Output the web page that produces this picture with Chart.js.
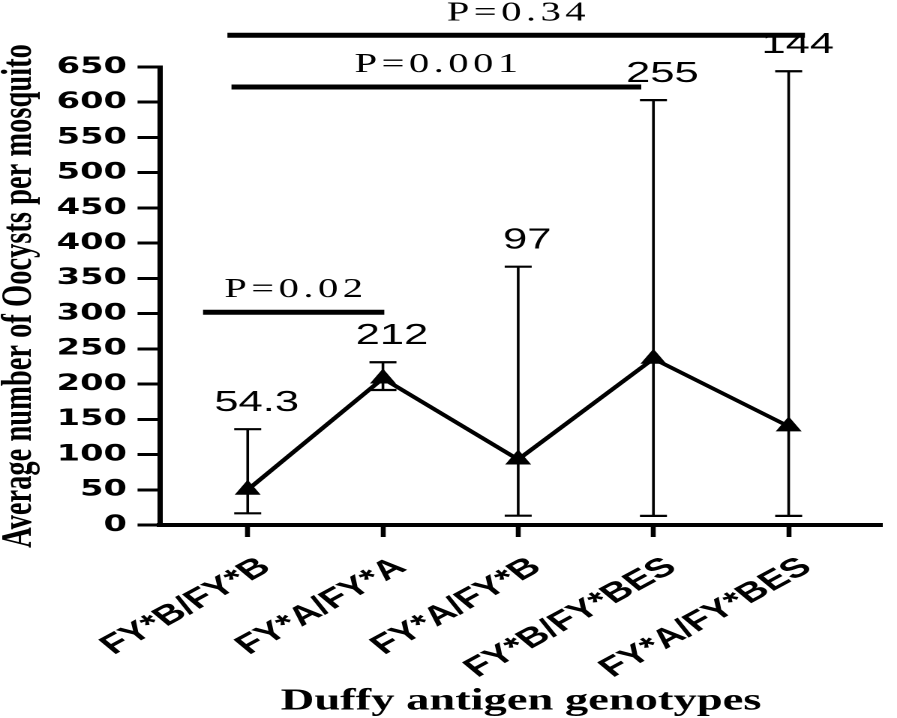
<!DOCTYPE html>
<html><head><meta charset="utf-8">
<script src="https://cdn.jsdelivr.net/npm/chart.js@4.4.1/dist/chart.umd.min.js"></script>
<style>html,body{margin:0;padding:0;background:#fff;overflow:hidden}canvas{display:block}</style>
</head><body>
<canvas id="c" width="598" height="718" style="width:897px;height:718px"></canvas>
<script>
// ---- data ----
const categories = ["FY*B/FY*B", "FY*A/FY*A", "FY*A/FY*B", "FY*B/FY*BES", "FY*A/FY*BES"];
const means      = [50, 208, 93, 236, 140];
const errLow     = [16.6, 191.6, 13.2, 13, 13];
const errHigh    = [136, 231, 366.6, 603, 644];
const valueLabels = ["54.3", "212", "97", "255", "144"];
const yMin = 0, yMax = 650, yStep = 50;
// significance brackets (category units / value units)
const pLabels = ["P=0.02", "P=0.001", "P=0.34"];
const pLevels = [302, 621.6, 695];
const pFrom   = [-0.33, -0.12, -0.15];
const pTo     = [1.01, 2.91, 4.12];

const annot = {
  id: 'annot',
  beforeDatasetsDraw(chart) {
    const {ctx, scales: {x, y}} = chart;
    ctx.save();
    ctx.strokeStyle = '#000';
    means.forEach((m, i) => {
      const px = x.getPixelForValue(i);
      const yl = y.getPixelForValue(errLow[i]);
      const yh = y.getPixelForValue(errHigh[i]);
      ctx.lineWidth = 1.8;
      ctx.beginPath(); ctx.moveTo(px, yl); ctx.lineTo(px, yh); ctx.stroke();
      ctx.lineWidth = 2.2;
      ctx.beginPath();
      ctx.moveTo(px - 9, yl); ctx.lineTo(px + 9, yl);
      ctx.moveTo(px - 9, yh); ctx.lineTo(px + 9, yh);
      ctx.stroke();
    });
    ctx.restore();
  },
  afterDatasetsDraw(chart) {
    const {ctx, scales: {x, y}} = chart;
    ctx.save();
    ctx.fillStyle = '#000';
    ctx.font = '29px "Liberation Sans"';
    ctx.textAlign = 'center';
    ctx.textBaseline = 'alphabetic';
    valueLabels.forEach((t, i) => {
      const px = x.getPixelForValue(i);
      const yh = y.getPixelForValue(errHigh[i]);
      ctx.fillText(t, px + 6, yh - 18);
    });
    ctx.strokeStyle = '#000';
    ctx.lineWidth = 5;
    ctx.font = '27px "Liberation Serif"';
    try { ctx.letterSpacing = '3px'; } catch (e) {}
    pLabels.forEach((t, k) => {
      const ly = y.getPixelForValue(pLevels[k]);
      const x1 = x.getPixelForValue(pFrom[k]);
      const x2 = x.getPixelForValue(pTo[k]);
      ctx.beginPath(); ctx.moveTo(x1, ly); ctx.lineTo(x2, ly); ctx.stroke();
      ctx.fillText(t, (x1 + x2) / 2 + 1.5, ly - 15);
    });
    ctx.restore();
  }
};

new Chart(document.getElementById('c'), {
  type: 'line',
  data: {
    datasets: [{
      data: means.map((v, i) => ({x: i, y: v})),
      borderColor: '#000',
      borderWidth: 3.5,
      tension: 0,
      pointStyle: 'triangle',
      pointRadius: 9,
      pointBackgroundColor: '#000',
      pointBorderColor: '#000',
      pointBorderWidth: 1,
      clip: false
    }]
  },
  options: {
    responsive: false,
    devicePixelRatio: 2,
    animation: false,
    events: [],
    layout: {padding: {top: 67, right: 1, left: 0, bottom: 0}},
    plugins: {legend: {display: false}, tooltip: {enabled: false}},
    scales: {
      x: {
        type: 'linear',
        min: -0.648, max: 4.69,
        afterBuildTicks: s => { s.ticks = categories.map((c, i) => ({value: i})); },
        afterFit: s => { s.height = 193; },
        ticks: {
          autoSkip: false,
          callback: v => categories[v] ?? '',
          minRotation: 39, maxRotation: 39,
          labelOffset: 12,
          padding: 14,
          color: '#000',
          font: {family: 'Liberation Sans', weight: 'bold', size: 27}
        },
        grid: {drawOnChartArea: false, drawTicks: true, tickLength: 12, tickWidth: 3.3, tickColor: '#000'},
        border: {display: true, color: '#000', width: 4},
        title: {
          display: true,
          text: 'Duffy antigen genotypes',
          color: '#000',
          font: {family: 'Liberation Serif', weight: 'bold', size: 31, lineHeight: 1},
          padding: {top: 0, bottom: 1}
        }
      },
      y: {
        min: yMin, max: yMax,
        afterFit: s => { s.width = 106.7; },
        ticks: {
          stepSize: yStep,
          padding: 7,
          color: '#000',
          font: {family: 'DejaVu Sans', weight: 'bold', size: 22.5}
        },
        grid: {drawOnChartArea: false, drawTicks: true, tickLength: 15, tickWidth: 3, tickColor: '#000'},
        border: {display: true, color: '#000', width: 3.5},
        title: {
          display: true,
          text: 'Average number of Oocysts per mosquito',
          color: '#000',
          font: {family: 'Liberation Serif', weight: 'bold', size: 28.5, lineHeight: 1},
          padding: {top: -1, bottom: 0}
        }
      }
    }
  },
  plugins: [annot]
});
</script>
</body></html>
